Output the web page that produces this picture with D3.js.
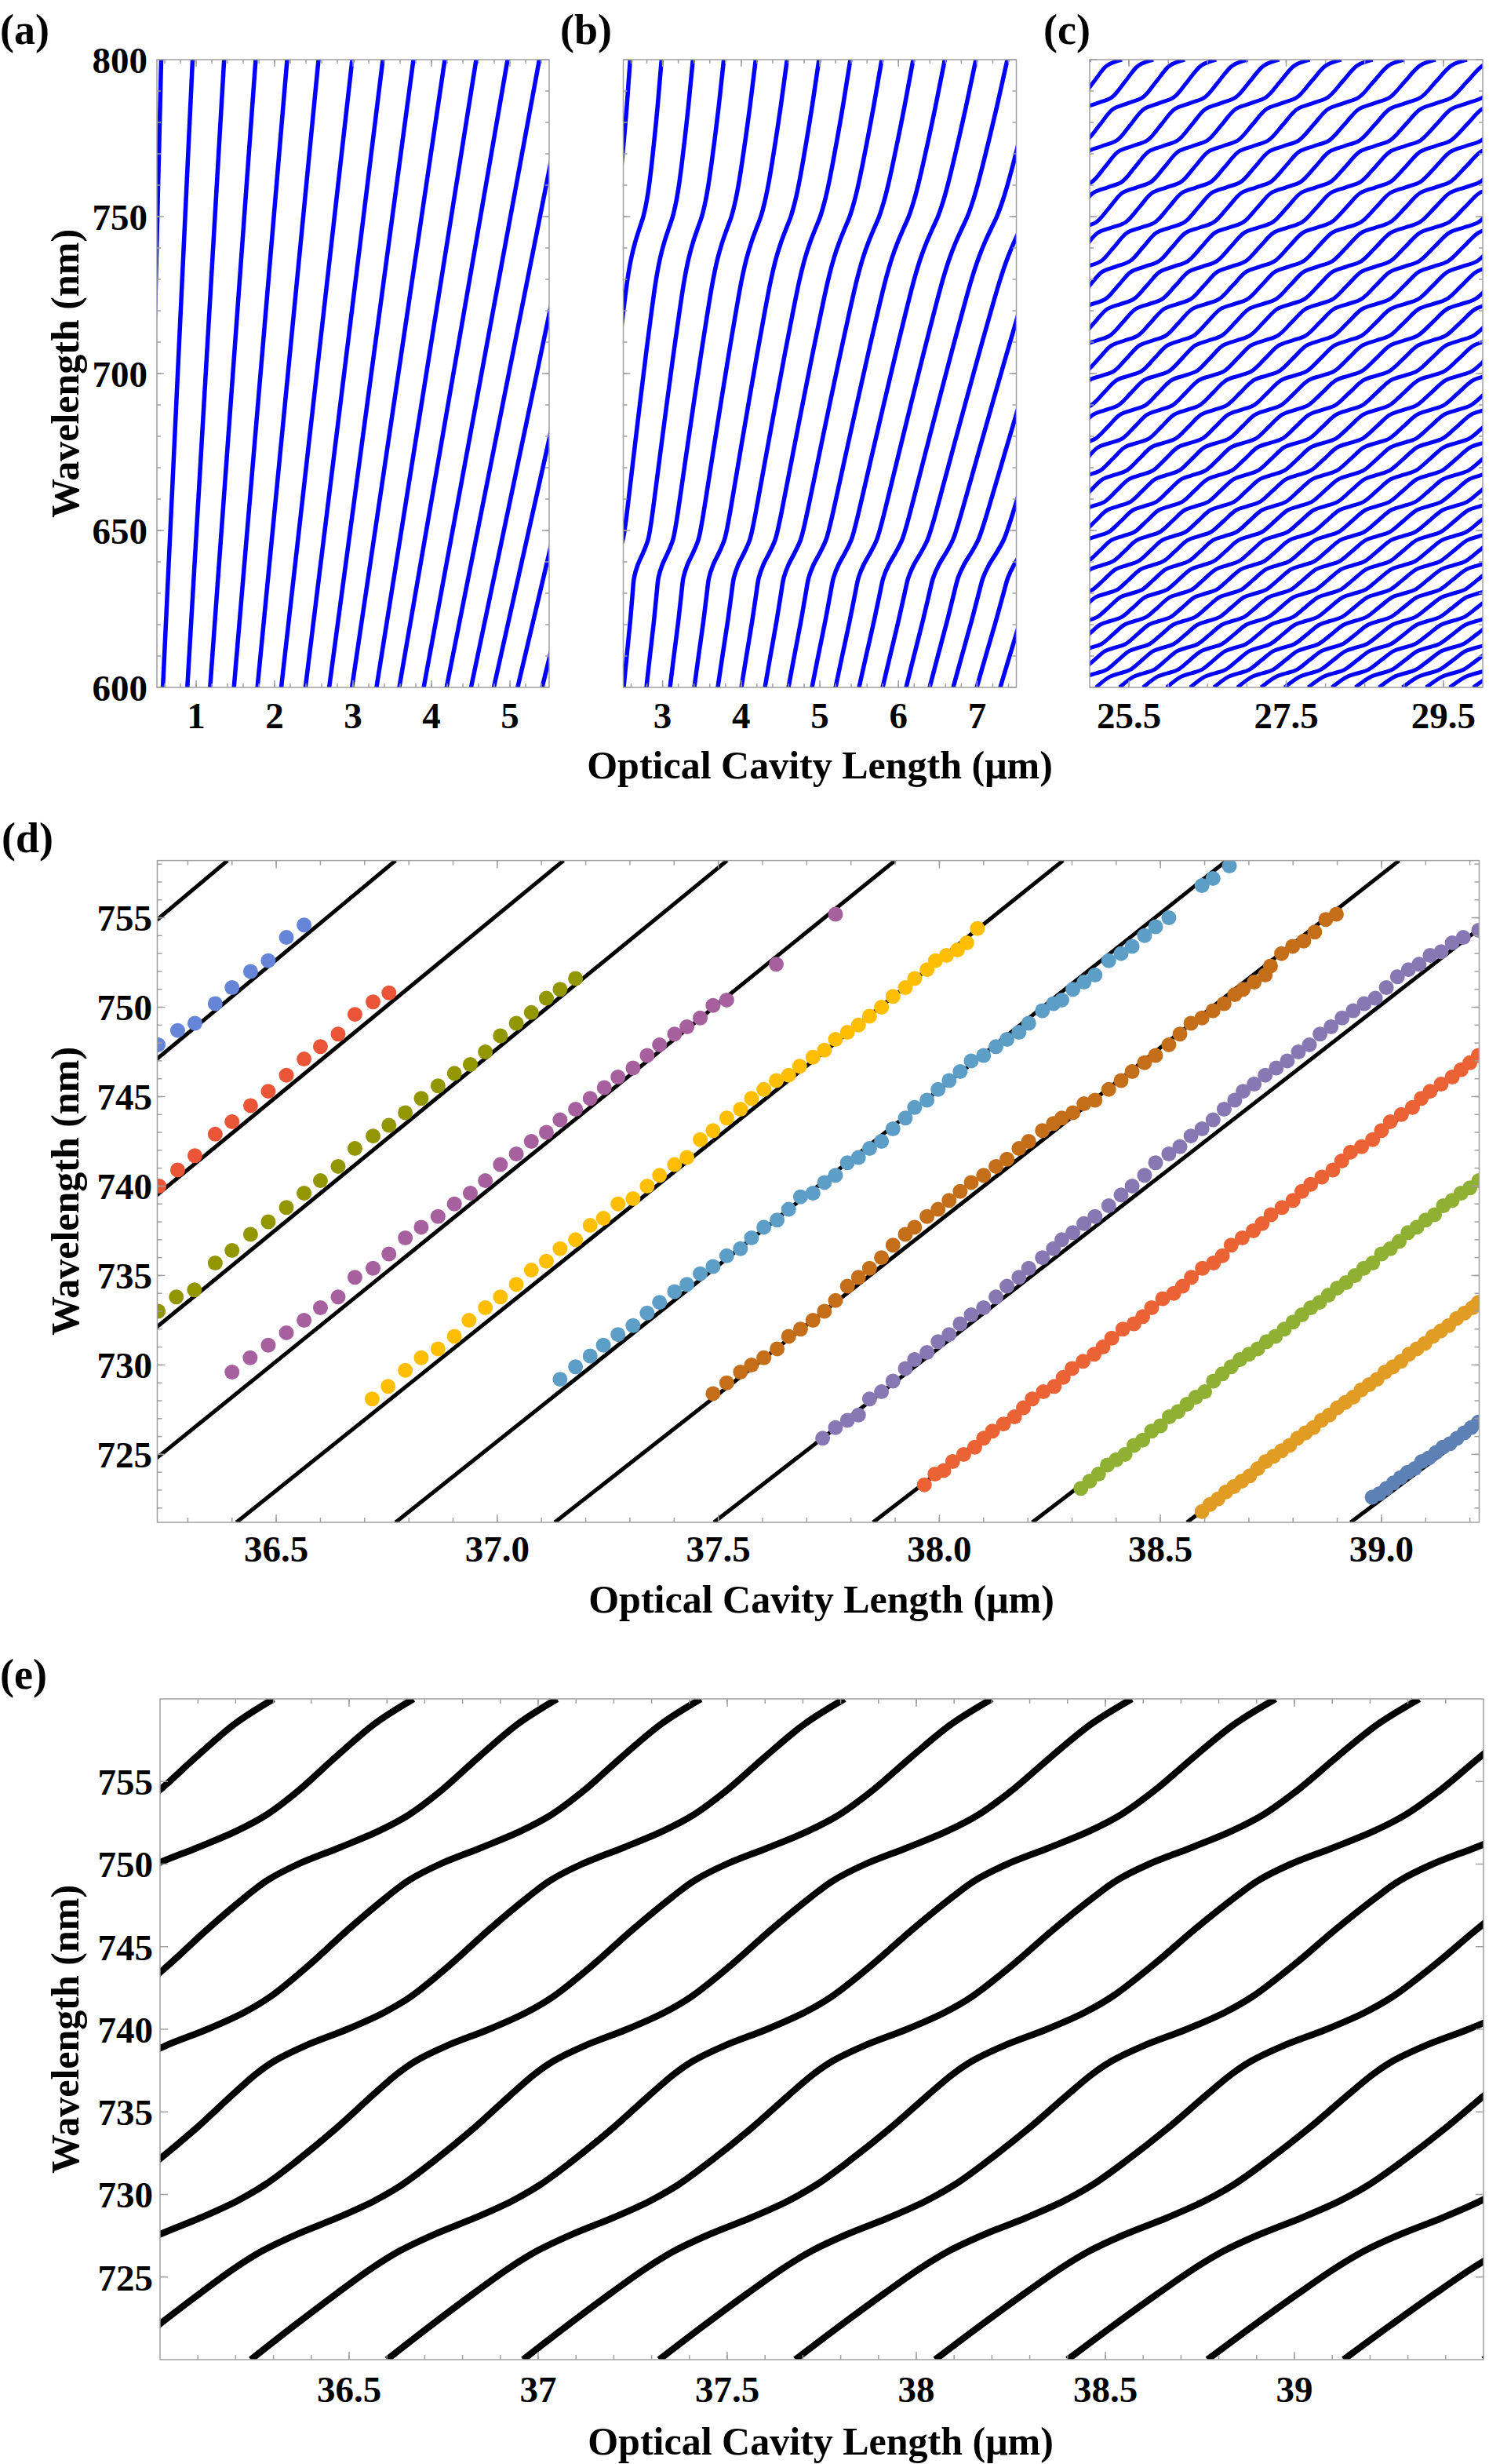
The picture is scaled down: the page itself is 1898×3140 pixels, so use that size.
<!DOCTYPE html>
<html>
<head>
<meta charset="utf-8">
<script src="https://cdn.jsdelivr.net/npm/d3@7"></script>
<style>
  body { margin: 0; background: #fff; }
  text { font-family: "Liberation Serif", "Times New Roman", Times, serif; font-weight: bold; fill: #000; }
</style>
</head>
<body>
<div id="chart"></div>
<script>
// ---------- (a) straight cavity modes: optical length (µm) where each mode meets 600 nm and 800 nm
const aLenAt600 = [0.36, 0.576, 0.888, 1.178, 1.482, 1.781, 2.085, 2.393, 2.696, 2.986, 3.299, 3.589, 3.901, 4.192, 4.504, 4.794, 5.098, 5.41];
const aLenAt800 = [0.555, 0.955, 1.357, 1.759, 2.16, 2.56, 2.99, 3.38, 3.77, 4.17, 4.57, 4.97, 5.375, 5.78, 6.18, 6.58, 6.98, 7.38];

// ---------- (b) hybrid modes, thin membrane
const bLenAt600 = [1.605, 1.905, 2.205, 2.505, 2.794, 3.094, 3.403, 3.702, 4.002, 4.302, 4.601, 4.900, 5.200, 5.499, 5.799, 6.098, 6.397, 6.697, 6.996, 7.295];
const bLenAt800 = [2.588, 2.987, 3.386, 3.779, 4.185, 4.584, 4.990, 5.389, 5.788, 6.188, 6.590, 6.986, 7.386, 7.786, 8.186, 8.586, 8.986, 9.386, 9.786, 10.186];
// [wavelength, deviation of the mode from its straight chord (µm)]
const bWiggle = [[600,0],[610,-0.025],[621,-0.051],[630,-0.078],[635,-0.09],[639,-0.07],[643,-0.025],[647,0.01],[652,0.015],[660,0.008],
  [675,-0.01],[690,-0.027],[705,-0.042],[720,-0.053],[730,-0.055],[737,-0.043],[742,-0.02],[746,0.008],[750,0.038],[755,0.054],
  [760,0.058],[767,0.054],[775,0.045],[785,0.03],[792,0.016],[800,0]];

// ---------- (c) hybrid modes, long cavity
const cLenAt600 = [14.88, 15.18, 15.48, 15.78, 16.08, 16.38, 16.68, 16.98, 17.28, 17.58, 17.88, 18.18, 18.48, 18.78, 19.08, 19.38, 19.68,
  19.98, 20.28, 20.58, 20.88, 21.18, 21.48, 21.78, 22.08, 22.38, 22.68, 22.98, 23.28, 23.58, 23.88, 24.18, 24.48, 24.78, 25.08, 25.38,
  25.68, 25.98, 26.28, 26.58, 26.88, 27.18, 27.48, 27.78, 28.08, 28.38, 28.68, 28.98, 29.28, 29.58, 29.88];
const cLenAt800 = [25.01, 25.41, 25.81, 26.21, 26.61, 27.01, 27.41, 27.80, 28.20, 28.60, 29.00, 29.40, 29.80, 30.20, 30.60, 31.00, 31.40,
  31.80, 32.20, 32.60, 33.00, 33.40, 33.80, 34.20, 34.60, 35.00, 35.40, 35.80, 36.20, 36.60, 37.00, 37.40, 37.80, 38.20, 38.60, 39.00,
  39.40, 39.80, 40.20, 40.60, 41.00, 41.40, 41.80, 42.20, 42.60, 43.00, 43.40, 43.80, 44.20, 44.60, 45.00];
const cWiggle = [[600,0],[603.4,-0.054],[604.5,0],[605.6,0.054],[608.6,0],[611.6,-0.056],[612.7,0],[613.8,0.056],[616.9,0],
  [620.0,-0.058],[621.2,0],[622.4,0.058],[625.55,0],[628.7,-0.06],[629.9,0],[631.1,0.06],[634.35,0],[637.6,-0.062],[638.9,0],
  [640.2,0.062],[643.55,0],[646.9,-0.064],[648.2,0],[649.5,0.064],[653.0,0],[656.5,-0.066],[657.8,0],[659.1,0.066],[662.7,0],
  [666.3,-0.068],[667.7,0],[669.1,0.068],[672.8,0],[676.5,-0.07],[677.9,0],[679.3,0.07],[683.1,0],[686.9,-0.072],[688.4,0],
  [689.9,0.072],[693.85,0],[697.8,-0.074],[699.3,0],[700.8,0.074],[704.85,0],[708.9,-0.077],[710.5,0],[712.1,0.077],[716.3,0],
  [720.5,-0.08],[722.1,0],[723.7,0.08],[728.05,0],[732.4,-0.082],[734.1,0],[735.8,0.082],[740.3,0],[744.8,-0.085],[746.5,0],
  [748.2,0.085],[752.9,0],[757.5,-0.088],[759.3,0],[761.1,0.088],[765.9,0],[770.7,-0.09],[772.5,0],[774.3,0.09],[779.3,0],
  [784.2,-0.092],[786.1,0],[788.0,0.092],[793.05,0],[798.1,-0.092],[800,0]];

// ---------- (d) model lines (optical length at 721.2 nm and 758.2 nm) and measured resonances
const dLineBottom = [34.61, 34.97, 35.33, 35.69, 36.05, 36.41, 36.77, 37.13, 37.49, 37.85, 38.21, 38.56, 38.93];
const dLineTop = [36.39, 36.77, 37.15, 37.52, 37.90, 38.28, 38.65, 39.04, 39.42, 39.80, 40.17, 40.55, 40.93];

const dSteel = [[38.979,722.6],[38.995,722.8],[39.011,723.1],[39.027,723.4],[39.043,723.7],[39.059,724.0],[39.075,724.2],[39.091,724.6],
  [39.107,724.8],[39.123,725.1],[39.139,725.4],[39.155,725.6],[39.171,725.9],[39.187,726.2],[39.203,726.5],[39.219,726.8]];
const dOrange = [[38.594,721.8],[38.612,722.2],[38.630,722.5],[38.648,722.9],[38.666,723.2],[38.684,723.5],[38.702,723.8],[38.720,724.2],
  [38.738,724.6],[38.756,724.9],[38.774,725.2],[38.792,725.5],[38.810,725.9],[38.828,726.2],[38.846,726.5],[38.864,726.9],[38.882,727.2],
  [38.900,727.6],[38.918,727.9],[38.936,728.2],[38.954,728.6],[38.972,728.9],[38.990,729.2],[39.008,729.6],[39.026,729.9],[39.044,730.2],
  [39.062,730.6],[39.080,730.9],[39.098,731.2],[39.116,731.6],[39.134,731.9],[39.152,732.2],[39.170,732.6],[39.188,732.9],[39.206,733.2],
  [39.219,733.5]];
const dGreen = [[38.32,723.1],[38.34,723.5],[38.36,723.9],[38.38,724.4],[38.40,724.7],[38.42,725.0],[38.44,725.5],[38.46,725.8],[38.48,726.3],
  [38.50,726.6],[38.52,727.1],[38.54,727.4],[38.56,727.8],[38.58,728.2],[38.60,728.5],[38.62,729.1],[38.64,729.5],[38.66,729.9],[38.68,730.3],
  [38.70,730.6],[38.72,730.9],[38.74,731.3],[38.76,731.6],[38.78,732.0],[38.80,732.4],[38.82,732.8],[38.84,733.2],[38.86,733.5],[38.88,733.9],
  [38.90,734.3],[38.92,734.6],[38.94,735.0],[38.96,735.4],[38.98,735.7],[39.00,736.2],[39.02,736.5],[39.04,736.9],[39.06,737.4],[39.08,737.7],
  [39.10,738.1],[39.12,738.4],[39.14,738.9],[39.16,739.2],[39.18,739.6],[39.20,739.9],[39.22,740.3]];
const dRed = [[37.966,723.3],[37.99,723.9],[38.01,724.1],[38.03,724.6],[38.055,725.0],[38.08,725.4],[38.10,725.9],[38.12,726.3],[38.145,726.7],
  [38.17,727.1],[38.19,727.6],[38.21,728.1],[38.235,728.5],[38.26,728.8],[38.28,729.3],[38.30,729.8],[38.325,730.2],[38.35,730.6],[38.37,731.0],
  [38.39,731.5],[38.415,732.0],[38.44,732.3],[38.46,732.7],[38.48,733.2],[38.505,733.7],[38.53,734.0],[38.55,734.4],[38.57,734.9],[38.595,735.4],
  [38.62,735.7],[38.64,736.1],[38.66,736.7],[38.685,737.1],[38.71,737.5],[38.73,737.9],[38.75,738.4],[38.775,738.8],[38.80,739.2],[38.82,739.7],
  [38.84,740.1],[38.865,740.5],[38.89,740.9],[38.91,741.4],[38.93,741.9],[38.955,742.2],[38.98,742.6],[39.00,743.1],[39.02,743.6],[39.045,744.0],
  [39.07,744.4],[39.09,744.9],[39.11,745.3],[39.135,745.7],[39.16,746.1],[39.18,746.5],[39.20,746.9],[39.219,747.3]];
const dLavender = [[37.736,725.9],[37.765,726.5],[37.792,726.9],[37.817,727.2],[37.842,728.1],[37.869,728.5],[37.895,729.1],[37.923,729.8],
  [37.944,730.3],[37.972,730.7],[37.997,731.3],[38.022,731.7],[38.047,732.3],[38.072,732.8],[38.100,733.2],[38.128,733.8],[38.153,734.4],
  [38.180,734.9],[38.202,735.4],[38.233,736.0],[38.258,736.5],[38.277,737.0],[38.302,737.4],[38.327,737.9],[38.352,738.3],[38.383,738.9],
  [38.411,739.5],[38.436,740.0],[38.464,740.6],[38.489,741.3],[38.519,741.8],[38.544,742.2],[38.569,742.8],[38.594,743.2],[38.619,743.7],
  [38.644,744.3],[38.668,744.8],[38.687,745.3],[38.712,745.7],[38.737,746.2],[38.762,746.6],[38.787,747.0],[38.812,747.5],[38.837,747.9],
  [38.861,748.5],[38.886,748.9],[38.911,749.4],[38.936,749.8],[38.961,750.2],[38.986,750.5],[39.011,751.1],[39.036,751.7],[39.061,752.1],
  [39.085,752.4],[39.110,752.9],[39.135,753.1],[39.160,753.6],[39.185,753.9],[39.220,754.3]];
const dBrown = [[37.488,728.4],[37.519,729.0],[37.550,729.6],[37.575,730.0],[37.603,730.4],[37.633,730.9],[37.659,731.6],[37.686,732.0],
  [37.714,732.5],[37.740,733.0],[37.765,733.6],[37.792,734.4],[37.817,734.9],[37.842,735.4],[37.869,736.0],[37.895,736.7],[37.923,737.3],
  [37.944,737.7],[37.972,738.3],[37.997,738.7],[38.022,739.2],[38.047,739.7],[38.072,740.2],[38.100,740.6],[38.128,741.1],[38.153,741.5],
  [38.180,742.1],[38.202,742.5],[38.233,743.1],[38.258,743.5],[38.277,743.8],[38.302,744.1],[38.327,744.6],[38.352,744.8],[38.383,745.4],
  [38.411,745.9],[38.436,746.4],[38.464,746.9],[38.489,747.3],[38.519,747.9],[38.544,748.5],[38.569,749.1],[38.594,749.4],[38.619,749.8],
  [38.644,750.2],[38.668,750.7],[38.687,751.0],[38.712,751.4],[38.737,751.8],[38.749,752.3],[38.774,753.0],[38.799,753.4],[38.824,753.7],
  [38.849,754.2],[38.874,754.9],[38.898,755.2]];
const dSky = [[37.142,729.2],[37.177,729.9],[37.210,730.5],[37.240,731.1],[37.273,731.7],[37.307,732.2],[37.339,732.9],[37.367,733.5],
  [37.401,734.1],[37.429,734.5],[37.459,735.1],[37.488,735.5],[37.519,736.1],[37.550,736.5],[37.575,737.1],[37.603,737.7],[37.633,738.1],
  [37.659,738.7],[37.686,739.4],[37.714,739.6],[37.740,740.2],[37.765,740.6],[37.792,741.3],[37.817,741.6],[37.842,742.1],[37.869,742.5],
  [37.895,743.2],[37.923,743.8],[37.944,744.4],[37.972,744.8],[37.997,745.4],[38.022,745.9],[38.047,746.4],[38.072,747.0],[38.100,747.3],
  [38.128,747.8],[38.153,748.2],[38.180,748.6],[38.202,749.1],[38.233,749.8],[38.258,750.2],[38.277,750.4],[38.302,751.0],[38.327,751.4],
  [38.352,751.8],[38.383,752.6],[38.411,753.0],[38.436,753.4],[38.464,754.0],[38.489,754.5],[38.519,755.0],[38.594,756.8],[38.619,757.2],
  [38.656,757.9]];
const dYellow = [[36.717,728.1],[36.753,728.8],[36.792,729.7],[36.828,730.4],[36.866,730.9],[36.903,731.6],[36.936,732.5],[36.973,733.2],
  [37.007,733.8],[37.043,734.5],[37.077,735.3],[37.111,735.8],[37.142,736.5],[37.177,737.0],[37.210,737.8],[37.240,738.2],[37.273,739.0],
  [37.307,739.3],[37.339,740.0],[37.367,740.6],[37.401,741.2],[37.429,741.6],[37.459,742.6],[37.488,743.1],[37.519,743.8],[37.550,744.3],
  [37.575,744.9],[37.603,745.4],[37.631,745.9],[37.659,746.2],[37.684,746.7],[37.714,747.2],[37.740,747.6],[37.765,748.2],[37.792,748.6],
  [37.817,749.0],[37.842,749.5],[37.869,750.0],[37.895,750.6],[37.923,751.1],[37.944,751.6],[37.972,752.1],[37.991,752.6],[38.016,752.9],
  [38.041,753.2],[38.062,753.6],[38.086,754.4]];
const dMagenta = [[36.400,729.6],[36.441,730.4],[36.482,731.1],[36.523,731.8],[36.563,732.5],[36.600,733.2],[36.640,733.8],[36.678,734.9],
  [36.719,735.4],[36.755,736.2],[36.792,737.1],[36.828,737.7],[36.866,738.3],[36.903,739.0],[36.939,739.6],[36.973,740.3],[37.007,741.2],
  [37.043,741.8],[37.077,742.5],[37.111,743.0],[37.142,743.7],[37.177,744.3],[37.210,744.9],[37.242,745.5],[37.273,746.1],[37.307,746.6],
  [37.339,747.3],[37.367,747.9],[37.401,748.5],[37.429,748.9],[37.459,749.4],[37.488,750.1],[37.519,750.4],[37.631,752.4],[37.765,755.2]];
const dOlive = [[36.233,733.0],[36.274,733.8],[36.315,734.2],[36.362,735.7],[36.400,736.4],[36.442,737.3],[36.482,738.0],[36.523,738.8],
  [36.563,739.6],[36.600,740.3],[36.640,741.1],[36.678,742.1],[36.719,742.8],[36.755,743.4],[36.792,744.1],[36.828,744.9],[36.866,745.6],
  [36.903,746.3],[36.939,746.8],[36.973,747.5],[37.007,748.4],[37.043,749.1],[37.077,749.7],[37.111,750.5],[37.142,751.0],[37.177,751.6]];
const dVermilion = [[36.235,740.0],[36.277,740.9],[36.316,741.7],[36.362,742.9],[36.400,743.6],[36.442,744.5],[36.482,745.3],[36.523,746.2],
  [36.563,747.1],[36.600,747.8],[36.640,748.5],[36.678,749.6],[36.719,750.3],[36.755,750.8]];
const dBlue = [[36.233,747.9],[36.277,748.7],[36.316,749.1],[36.362,750.2],[36.400,751.1],[36.442,752.0],[36.482,752.6],[36.523,753.9],[36.563,754.6]];

const dSeries = [dSteel, dOrange, dGreen, dRed, dLavender, dBrown, dSky, dYellow, dMagenta, dOlive, dVermilion, dBlue];
const dColors = ["#5E81B5", "#E19C24", "#8FB032", "#EB6235", "#8778B3", "#C56E1A", "#5D9EC7", "#FFBF00", "#A5609D", "#929600", "#E95536", "#6685D9"];

// ---------- (e) hybrid modes around 740 nm (optical length at 720 nm and 760 nm)
const eLenAt720 = [33.72, 34.08, 34.44, 34.80, 35.16, 35.52, 35.88, 36.24, 36.60, 36.96, 37.32, 37.68, 38.05, 38.40, 38.77, 39.13, 39.50];
const eLenAt760 = [36.30, 36.67, 37.05, 37.43, 37.81, 38.20, 38.57, 38.95, 39.33, 39.71, 40.09, 40.47, 40.85, 41.23, 41.61, 41.99, 42.37];
const eWiggle = [[720,0],[722,-0.024],[724,-0.044],[725.5,-0.055],[726.6,-0.052],[727.6,-0.028],[728.6,0.012],[729.6,0.04],[730.6,0.048],
  [732,0.036],[734,0.008],[736,-0.03],[737.3,-0.052],[738.1,-0.055],[739,-0.035],[740,0.01],[741,0.04],[742,0.047],[744,0.022],[746,-0.014],
  [748,-0.042],[749,-0.05],[750,-0.032],[751,0.012],[752,0.05],[753,0.066],[754.5,0.055],[756.5,0.022],[758.5,-0.005],[760,0]];

// ---------- tick labels
const abcYTicks = [600, 650, 700, 750, 800];
const aXTicks = [1, 2, 3, 4, 5];
const bXTicks = [3, 4, 5, 6, 7];
const cXTicks = [25.5, 27.5, 29.5];
const deYTicks = [725, 730, 735, 740, 745, 750, 755];
const dXTicks = [36.5, 37.0, 37.5, 38.0, 38.5, 39.0];
const dXLabels = ["36.5", "37.0", "37.5", "38.0", "38.5", "39.0"];
const eXTicks = [36.5, 37, 37.5, 38, 38.5, 39];
const eXLabels = ["36.5", "37", "37.5", "38", "38.5", "39"];

const width = 1898, height = 3140;
const svg = d3.select("#chart").append("svg")
  .attr("width", width)
  .attr("height", height)
  .style("background", "#fff");

const steps = (a, b, s) => d3.range(Math.round((b - a) / s) + 1).map(i => +(a + i * s).toFixed(4));

function panel(id, xDom, xRng, yDom, yRng) {
  const x = d3.scaleLinear().domain(xDom).range(xRng);
  const y = d3.scaleLinear().domain(yDom).range(yRng);
  svg.append("clipPath").attr("id", id).append("rect")
    .attr("x", xRng[0]).attr("y", yRng[1])
    .attr("width", xRng[1] - xRng[0]).attr("height", yRng[0] - yRng[1]);
  const g = svg.append("g");
  const plot = g.append("g").attr("clip-path", `url(#${id})`);
  return { x, y, g, plot };
}

// frame with inward ticks on all four sides
function frame(p, t) {
  const [xa, xb] = p.x.range(), [ya, yb] = p.y.range();
  const f = p.g.append("g").attr("stroke", "#a0a0a0").attr("stroke-width", 1.5).attr("fill", "none");
  f.append("rect").attr("x", xa).attr("y", yb).attr("width", xb - xa).attr("height", ya - yb);
  const seg = (x1, y1, x2, y2) => f.append("line").attr("x1", x1).attr("y1", y1).attr("x2", x2).attr("y2", y2);
  (t.xMinor || []).forEach(v => { const px = p.x(v); seg(px, ya, px, ya - t.minor); seg(px, yb, px, yb + t.minor); });
  (t.xMajor || []).forEach(v => { const px = p.x(v); seg(px, ya, px, ya - t.major); seg(px, yb, px, yb + t.major); });
  (t.yMinor || []).forEach(v => { const py = p.y(v); seg(xa, py, xa + t.minor, py); seg(xb, py, xb - t.minor, py); });
  (t.yMajor || []).forEach(v => { const py = p.y(v); seg(xa, py, xa + t.major, py); seg(xb, py, xb - t.major, py); });
}

function xLabels(p, vals, labels, baseline, size) {
  p.g.selectAll(null).data(vals).join("text")
    .attr("x", d => p.x(d)).attr("y", baseline)
    .attr("text-anchor", "middle").attr("font-size", size)
    .text((d, i) => labels[i]);
}

function yLabels(p, vals, right, size) {
  p.g.selectAll(null).data(vals).join("text")
    .attr("x", right).attr("y", d => p.y(d) + size * 0.36)
    .attr("text-anchor", "end").attr("font-size", size)
    .text(d => d);
}

// each mode = straight chord between its two edge values + shared wiggle
function modes(p, lo, hi, wiggle, color, lw) {
  const lamLo = wiggle[0][0], lamHi = wiggle[wiggle.length - 1][0];
  const line = d3.line()
    .x(d => p.x(d[0]))
    .y(d => p.y(d[1]))
    .curve(d3.curveCatmullRom.alpha(0.5));
  p.plot.selectAll(null).data(d3.zip(lo, hi)).join("path")
    .attr("d", ([a, b]) => line(wiggle.map(([lam, w]) => [a + (b - a) * (lam - lamLo) / (lamHi - lamLo) + w, lam])))
    .attr("fill", "none")
    .attr("stroke", color)
    .attr("stroke-width", lw);
}

function title(x, y, txt, rotate) {
  const t = svg.append("text").attr("font-size", 50).attr("text-anchor", "middle").text(txt);
  if (rotate) t.attr("transform", `translate(${x},${y}) rotate(-90)`);
  else t.attr("x", x).attr("y", y);
}

function tag(x, y, txt) {
  svg.append("text").attr("x", x).attr("y", y).attr("font-size", 54).text(txt);
}

const tickFont = 47;
const blue = "#0000ff";

// ---------- (a)
const pa = panel("clipA", [0.5, 5.5], [200, 700], [600, 800], [876, 76]);
modes(pa, aLenAt600, aLenAt800, [[600, 0], [800, 0]], blue, 5.5);
frame(pa, { xMajor: aXTicks, xMinor: steps(0.6, 5.4, 0.2), yMajor: abcYTicks, yMinor: steps(610, 790, 10), major: 9, minor: 5 });
xLabels(pa, aXTicks, aXTicks.map(String), 928, tickFont);
yLabels(pa, abcYTicks, 188, tickFont);

// ---------- (b)
const pb = panel("clipB", [2.5, 7.5], [794.5, 1295.5], [600, 800], [876, 76]);
modes(pb, bLenAt600, bLenAt800, bWiggle, blue, 5.5);
frame(pb, { xMajor: bXTicks, xMinor: steps(2.6, 7.4, 0.2), yMajor: abcYTicks, yMinor: steps(610, 790, 10), major: 9, minor: 5 });
xLabels(pb, bXTicks, bXTicks.map(String), 928, tickFont);

// ---------- (c)
const pc = panel("clipC", [25, 30], [1389, 1890], [600, 800], [876, 76]);
modes(pc, cLenAt600, cLenAt800, cWiggle, blue, 5);
frame(pc, { xMajor: cXTicks, xMinor: steps(25.5, 29.5, 0.5), yMajor: abcYTicks, yMinor: steps(610, 790, 10), major: 9, minor: 5 });
xLabels(pc, cXTicks, cXTicks.map(String), 928, tickFont);

title(100, 476, "Wavelength (nm)", true);
title(1045, 992, "Optical Cavity Length (\u03bcm)");
tag(0, 56, "(a)");
tag(714, 56, "(b)");
tag(1330, 56, "(c)");

// ---------- (d)
const pd = panel("clipD", [36.231, 39.221], [200.5, 1885.5], [721.2, 758.2], [1940, 1096.6]);
modes(pd, dLineBottom, dLineTop, [[721.2, 0], [758.2, 0]], "#000", 5);
dSeries.forEach((pts, i) => {
  pd.plot.append("g").attr("fill", dColors[i])
    .selectAll("circle").data(pts).join("circle")
    .attr("cx", d => pd.x(d[0]))
    .attr("cy", d => pd.y(d[1]))
    .attr("r", 9.5);
});
frame(pd, { xMajor: dXTicks, xMinor: steps(36.3, 39.2, 0.1), yMajor: deYTicks, yMinor: steps(722, 758, 1), major: 10, minor: 6 });
xLabels(pd, dXTicks, dXLabels, 1990, tickFont);
yLabels(pd, deYTicks, 194, tickFont);
title(100, 1518, "Wavelength (nm)", true);
title(1047, 2055, "Optical Cavity Length (\u03bcm)");
tag(2, 1086, "(d)");

// ---------- (e)
const pe = panel("clipE", [36, 39.5], [204, 1891], [720, 760], [3007, 2165]);
modes(pe, eLenAt720, eLenAt760, eWiggle, "#000", 8.5);
frame(pe, { xMajor: eXTicks, xMinor: steps(36.1, 39.4, 0.1), yMajor: deYTicks, yMinor: [], major: 10, minor: 6 });
xLabels(pe, eXTicks, eXLabels, 3061, tickFont);
yLabels(pe, deYTicks, 195, tickFont);
title(100, 2586, "Wavelength (nm)", true);
title(1046, 3128, "Optical Cavity Length (\u03bcm)");
tag(0, 2152, "(e)");
</script>
</body>
</html>
